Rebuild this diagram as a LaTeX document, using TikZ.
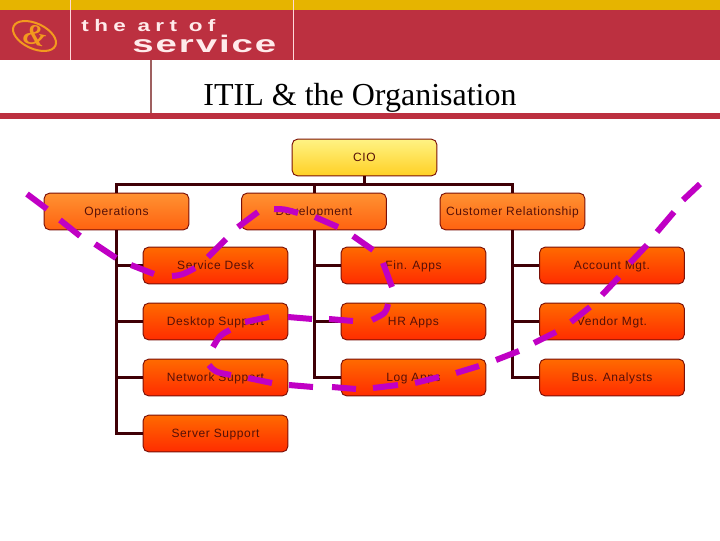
\documentclass[tikz,border=0pt]{standalone}
\usepackage{fontspec}
\setmainfont{Liberation Sans}
\newfontfamily\titlefont{Liberation Serif}
\definecolor{bandred}{HTML}{BC3040}
\definecolor{bandgold}{HTML}{E6B400}
\definecolor{logoorange}{HTML}{F39A1E}
\definecolor{trunkred}{HTML}{3F0006}
\definecolor{edgered}{HTML}{7A1008}
\definecolor{inkred}{HTML}{561008}
\definecolor{markpurple}{HTML}{C000C4}
\definecolor{bosstop}{HTML}{FFF384}
\definecolor{bossbottom}{HTML}{FFD024}
\definecolor{headtop}{HTML}{FF9232}
\definecolor{headbottom}{HTML}{FF6210}
\definecolor{teamtop}{HTML}{FF6A00}
\definecolor{teambottom}{HTML}{FF2C00}
\begin{document}
\begin{tikzpicture}[x=0.75pt,y=-0.75pt]
\tikzset{
box node/.style={rectangle,draw=edgered,line width=0.7pt,rounded corners=4pt,inner sep=0,minimum width=108.5pt,minimum height=27.5pt,text height=7pt,text depth=1pt,text=inkred,font=\fontsize{9}{11}\selectfont\addfontfeature{LetterSpace=5}},
boss node/.style={box node,top color=bosstop,bottom color=bossbottom},
head node/.style={box node,top color=headtop,bottom color=headbottom},
team node/.style={box node,top color=teamtop,bottom color=teambottom},
brand node/.style={anchor=base west,inner sep=0,text=white!92!red,transform shape},
trunk/.style={draw=trunkred,line width=2.25pt},
mark line/.style={draw=markpurple,line width=4.5pt}
}
\useasboundingbox (0,0) rectangle (720,540);

\fill[bandgold] (0,0) rectangle (720,10);
\fill[bandred] (0,10) rectangle (720,60);
\fill[bandred] (0,113) rectangle (720,119);
\draw[white!85!red,line width=0.6pt] (70.5,0) -- (70.5,60) (293.5,0) -- (293.5,60);
\draw[gray!75!red,line width=1pt] (151,60) -- (151,113);

\draw[logoorange,line width=1.5pt,rotate around={-25:(34.5,36)}] (34.5,36) ellipse (23 and 12.6);
\node (amp) at (35,35) [text=logoorange,font=\titlefont\itshape\bfseries\fontsize{22}{22}\selectfont,rotate=-12] {\&};
\begin{scope}[shift={(81,31)},xscale=1.35]
\node (artof) at (0,0) [brand node,font=\bfseries\fontsize{12.5}{13}\selectfont\addfontfeature{LetterSpace=24}] {the art of};
\end{scope}
\begin{scope}[shift={(132,52)},xscale=1.6]
\node (svc) at (0,0) [brand node,font=\bfseries\fontsize{18}{18}\selectfont\addfontfeature{LetterSpace=5}] {service};
\end{scope}
\node (title) at (360,105) [anchor=base,inner sep=0,font=\titlefont\fontsize{24}{26}\selectfont] {ITIL \& the Organisation};

\node (cio) at (364.5,157.5) [boss node] {CIO};
\node (ops) at (116.5,211.5) [head node] {Operations};
\node (dev) at (314,211.5) [head node] {Development};
\node (crm) at (512.5,211.5) [head node] {Customer Relationship};

\node (desk) at (215.5,265.5) [team node] {Service Desk};
\node (desktop) at (215.5,321.5) [team node] {Desktop Support};
\node (network) at (215.5,377.5) [team node] {Network Support};
\node (server) at (215.5,433.5) [team node] {Server Support};
\node (fin) at (413.5,265.5) [team node] {Fin. Apps};
\node (hr) at (413.5,321.5) [team node] {HR Apps};
\node (log) at (413.5,377.5) [team node] {Log Apps};
\node (account) at (612,265.5) [team node] {Account Mgt.};
\node (vendor) at (612,321.5) [team node] {Vendor Mgt.};
\node (analysts) at (612,377.5) [team node] {Bus. Analysts};

\coordinate (bus) at (364.5,184);
\draw[trunk] (cio.south) -- (bus);
\draw[trunk] (ops.north) |- (bus) -| (crm.north);
\draw[trunk] (dev.north) -- (dev.north |- bus);
\draw[trunk] (ops.south) |- (server.west);
\draw[trunk] (ops.south |- desk.west) -- (desk.west);
\draw[trunk] (ops.south |- desktop.west) -- (desktop.west);
\draw[trunk] (ops.south |- network.west) -- (network.west);
\draw[trunk] (dev.south) |- (log.west);
\draw[trunk] (dev.south |- fin.west) -- (fin.west);
\draw[trunk] (dev.south |- hr.west) -- (hr.west);
\draw[trunk] (crm.south) |- (analysts.west);
\draw[trunk] (crm.south |- account.west) -- (account.west);
\draw[trunk] (crm.south |- vendor.west) -- (vendor.west);

\draw[mark line]
  (27,194) -- (47,209)
  (60,220) -- (80,236)
  (95,244) -- (116,258)
  (131,265) -- (154,274)
  (172,276) .. controls (182,275) .. (195,268)
  (208,257) -- (226,239)
  (238,227) -- (258,212)
  (274,209) .. controls (284,209) .. (298,213)
  (315,217) -- (338,227)
  (353,236) -- (373,250)
  (383,263) -- (392,287)
  (388,304) .. controls (386,313) .. (372,320)
  (353,321) -- (329,319)
  (312,319) -- (288,317)
  (269,317) -- (245,322)
  (230,330) .. controls (220,335) .. (213,347)
  (209,365) .. controls (215,372) .. (231,375)
  (248,378) -- (272,383)
  (289,385) -- (313,387)
  (332,387) -- (356,389)
  (373,388) -- (398,385)
  (415,383) -- (439,377)
  (456,373) -- (479,366)
  (496,360) -- (519,351)
  (534,343) -- (556,332)
  (571,322) -- (590,307)
  (602,295) -- (619,277)
  (630,263) -- (647,245)
  (657,232) -- (674,212)
  (683,200) -- (700,184);
\end{tikzpicture}
\end{document}
